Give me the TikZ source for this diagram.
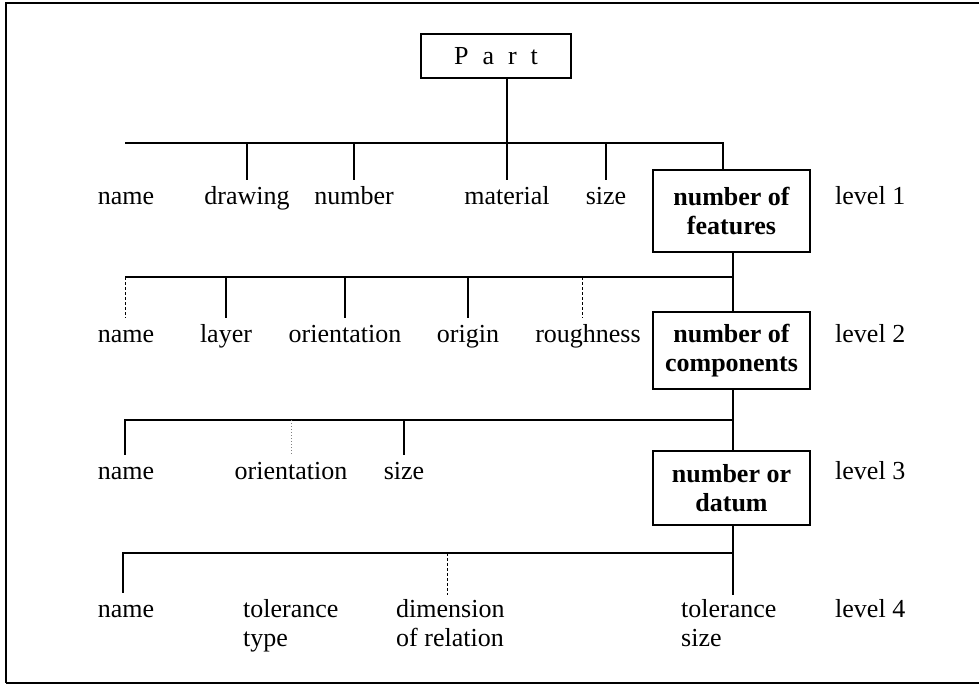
\documentclass[tikz,border=0pt]{standalone}
\usepackage{fontspec}
\setmainfont{Liberation Serif}
\begin{document}
\begin{tikzpicture}[x=1pt,y=-1pt,
  every node/.style={font=\fontsize{26}{29}\selectfont, inner sep=4pt},
  lbl/.style={anchor=base, text height=19.5pt, text depth=6pt},
  mlbl/.style={anchor=north west, align=left, inner sep=4pt},
  boxnode/.style={draw, line width=1.2pt, minimum width=157pt, inner sep=0pt, align=center, font=\fontsize{26}{28.5}\selectfont\bfseries},
  link/.style={line width=1.3pt},
  faint/.style={line width=1pt, densely dashed},
  faintdot/.style={line width=1pt, dotted, gray}
]
\useasboundingbox (0,0) rectangle (979,686);
% frame
\draw[line width=2.5pt] (979,3) -- (6,3) -- (6,683);
\draw[line width=1.2pt] (6,683) -- (979,683);

% top node
\node[draw, line width=1.2pt, minimum width=150pt, minimum height=44pt, inner sep=0pt] (part) at (496,56) {P\hspace{14pt}a\hspace{14pt}r\hspace{14pt}t};

% boxes
\node[boxnode, minimum height=82pt] (f1) at (731.5,211) {number of\\features};
\node[boxnode, minimum height=77pt] (c2) at (731.5,350.5) {number of\\components};
\node[boxnode, minimum height=74pt] (d3) at (731.5,488) {number or\\datum};

% level labels
\node[lbl, anchor=base west] (lv1) at (831,204) {level 1};
\node[lbl, anchor=base west] (lv2) at (831,342) {level 2};
\node[lbl, anchor=base west] (lv3) at (831,479) {level 3};
\node[lbl, anchor=base west] (lv4) at (831,617) {level 4};

% level 1 items
\node[lbl] (n1) at (126,204) {name};
\node[lbl] (dr1) at (247,204) {drawing};
\node[lbl] (nu1) at (354,204) {number};
\node[lbl] (ma1) at (507,204) {material};
\node[lbl] (si1) at (606,204) {size};

% level 2 items
\node[lbl] (n2) at (126,342) {name};
\node[lbl] (la2) at (226,342) {layer};
\node[lbl] (or2) at (345,342) {orientation};
\node[lbl] (og2) at (468,342) {origin};
\node[lbl] (ro2) at (588,342) {roughness};

% level 3 items
\node[lbl] (n3) at (126,479) {name};
\node[lbl] (or3) at (291,479) {orientation};
\node[lbl] (si3) at (404,479) {size};

% level 4 items
\node[lbl] (n4) at (126,617) {name};
\node[mlbl] (tt4) at (239,595) {tolerance\\type};
\node[mlbl] (dm4) at (392,595) {dimension\\of relation};
\node[mlbl] (ts4) at (677,595) {tolerance\\size};

% bus coordinates
\coordinate (b1l) at (125,143);
\coordinate (b1r) at (723,143);
\coordinate (b2l) at (125,277);
\coordinate (b2r) at (733,277);
\coordinate (b3l) at (125,420);
\coordinate (b3r) at (733,420);
\coordinate (b4l) at (123,553);
\coordinate (b4r) at (733,553);

% level 1 connections
\draw[link] (part.south -| ma1.north) -- (ma1.north);
\draw[link] (b1l) -- (b1r) -- (b1r |- f1.north);
\draw[link] (dr1.north |- b1l) -- (dr1.north);
\draw[link] (nu1.north |- b1l) -- (nu1.north);
\draw[link] (si1.north |- b1l) -- (si1.north);

% level 2 connections
\draw[link] (b2r |- f1.south) -- (b2r) -- (b2r |- c2.north);
\draw[link] (b2r) -- (b2l);
\draw[faint] (b2l) -- (n2.north -| b2l);
\draw[link] (la2.north |- b2l) -- (la2.north);
\draw[link] (or2.north |- b2l) -- (or2.north);
\draw[link] (og2.north |- b2l) -- (og2.north);
\draw[faint] ([xshift=-6pt]ro2.north |- b2l) -- ([xshift=-6pt]ro2.north);

% level 3 connections
\draw[link] (b3r |- c2.south) -- (b3r) -- (b3r |- d3.north);
\draw[link] (b3r) -- (b3l) -- (n3.north -| b3l);
\draw[faintdot] (or3.north |- b3l) -- (or3.north);
\draw[link] (si3.north |- b3l) -- (si3.north);

% level 4 connections
\draw[link] (b4r |- d3.south) -- (b4r) -- (b4r |- ts4.north);
\draw[link] (b4r) -- (b4l) -- (n4.north -| b4l);
\draw[faint] ([xshift=-3pt]dm4.north |- b4l) -- ([xshift=-3pt]dm4.north);
\end{tikzpicture}
\end{document}
